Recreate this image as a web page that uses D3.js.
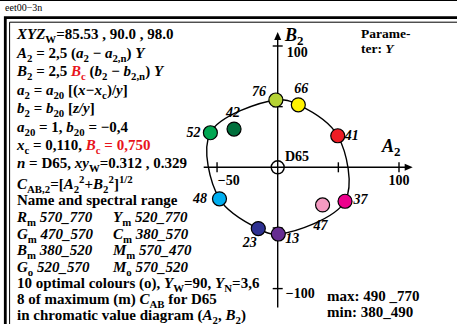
<!DOCTYPE html>
<html>
<head>
<meta charset="utf-8">
<script src="https://cdn.jsdelivr.net/npm/d3@7/dist/d3.min.js"></script>
<style>
body { margin: 0; background: #fff; }
svg text { font-family: "Liberation Serif", "Times New Roman", serif; font-weight: bold; white-space: pre; }
</style>
</head>
<body>
<svg id="fig" width="457" height="324"></svg>
<script>
// colour points: label, A2, B2, fill
var labels = ['76', '66', '41', '37', '13', '23', '48', '52', '42', '47'];
var a2Values = [-1.5, 17, 49.5, 55.5, 0.5, -16, -48, -55.5, -36, 37];
var b2Values = [55.5, 51.5, 26, -28, -55, -50.5, -26, 28.5, 31.5, -31];
var colours = ['#b5d334', '#fff200', '#ed1c24', '#ec008c', '#662d91',
               '#2e3192', '#00aeef', '#00a651', '#006f3c', '#f49ac1'];
// 8 maximum colours joined by the contour
var curveOrder = ['52', '76', '66', '41', '37', '13', '23', '48'];

var xTicks = [-50, 50, 100];
var yTicks = [-100, -50, 50, 100];
var xTickLabels = ['\u221250', '100'];   // for -50, 100
var yTickLabels = ['100', '\u2212100'];  // for 100, -100

// left text block, "flags|text": i italic, _ sub, ^ sup, r red
var textLines = [
  ['i|XYZ', '_|W', '|=85.53 , 90.0 , 98.0'],
  ['i|A', '_|2', '| = 2,5 (', 'i|a', '_|2', '| \u2212 ', 'i|a', '_|2,n', '|) ', 'i|Y'],
  ['i|B', '_|2', '| = 2,5 ', 'ri|B', 'r_|c', '| (', 'i|b', '_|2', '| \u2212 ', 'i|b', '_|2,n', '|) ', 'i|Y'],
  ['i|a', '_|2', '| = ', 'i|a', '_|20', '| [(', 'i|x\u2212x', '_|c', '|)/', 'i|y', '|]'],
  ['i|b', '_|2', '| = ', 'i|b', '_|20', '| [', 'i|z/y', '|]'],
  ['i|a', '_|20', '| = 1, ', 'i|b', '_|20', '| = \u22120,4'],
  ['i|x', '_|c', '| = 0,110, ', 'ri|B', 'r_|c', 'r| = 0,750'],
  ['i|n', '| = D65, ', 'i|xy', '_|W', '|=0.312 , 0.329'],
  ['i|C', '_|AB,2', '|=[', 'i|A', '_|2', '^|2', '|+', 'i|B', '_|2', '^|2', '|]', '^|1/2'],
  ['|Name and spectral range'],
  ['i|R', '_|m', 'i| 570_770'],
  ['i|G', '_|m', 'i| 470_570'],
  ['i|B', '_|m', 'i| 380_520'],
  ['i|G', '_|o', 'i| 520_570'],
  ['|10 optimal colours (o), ', 'i|Y', '_|W', '|=90, ', 'i|Y', '_|N', '|=3,6'],
  ['|8 of maximum (m) ', 'i|C', '_|AB', '| for D65'],
  ['|in chromatic value diagram (', 'i|A', '_|2', '|, ', 'i|B', '_|2', '|)']
];
var textLines2 = [
  ['i|Y', '_|m', 'i| 520_770'],
  ['i|C', '_|m', 'i| 380_570'],
  ['i|M', '_|m', 'i| 570_470'],
  ['i|M', '_|o', 'i| 570_520']
];
var baselines = [39, 57.5, 76, 94.5, 113, 131.5, 150, 167.5, 189, 204.5,
                 221.5, 238.5, 255, 271.5, 288, 304, 319.5];

var svg = d3.select('#fig');

function rich(sel, x, y, segs, size) {
  var t = sel.append('text').attr('x', x).attr('y', y).style('font-size', size + 'px');
  var cur = 0;
  segs.forEach(function(s) {
    var k = s.indexOf('|'), f = s.substring(0, k), str = s.substring(k + 1);
    var off = f.indexOf('_') >= 0 ? 4 : (f.indexOf('^') >= 0 ? -6 : 0);
    var ts = t.append('tspan').attr('dy', off - cur).text(str);
    cur = off;
    if (off !== 0) ts.style('font-size', (size * 0.72) + 'px');
    if (f.indexOf('i') >= 0) ts.style('font-style', 'italic');
    if (f.indexOf('r') >= 0) ts.attr('fill', '#e8141c');
  });
  return t;
}

// frame
svg.append('line').attr('x1', 0).attr('x2', 457).attr('y1', 0.5).attr('y2', 0.5)
  .attr('stroke', '#000').attr('stroke-width', 1);
svg.append('text').attr('x', 5).attr('y', 11).style('font-size', '10px')
  .style('font-weight', 'normal').text('eet00\u22123n');
svg.append('path').attr('d', 'M5.3,330 V17.6 H470').attr('fill', 'none')
  .attr('stroke', '#000').attr('stroke-width', 2.8);
svg.append('path').attr('d', 'M9.6,330 V22.2 H470').attr('fill', 'none')
  .attr('stroke', '#000').attr('stroke-width', 1);

// scales
var x = d3.scaleLinear().domain([-100, 100]).range([156.4, 399]);
var y = d3.scaleLinear().domain([-100, 100]).range([288.6, 46]);

var ax = svg.append('g').attr('stroke', '#000').attr('stroke-width', 1.4);
ax.append('line').attr('x1', x(-61)).attr('x2', x(106)).attr('y1', y(0)).attr('y2', y(0));
ax.append('line').attr('x1', x(0)).attr('x2', x(0)).attr('y1', y(-115.5)).attr('y2', y(106));
svg.append('path')
  .attr('d', 'M' + x(111.3) + ',' + y(0) + ' l-8,-3.5 v7 z').attr('fill', '#000');
svg.append('path')
  .attr('d', 'M' + x(0) + ',' + y(111.5) + ' l-3.5,8 h7 z').attr('fill', '#000');
ax.selectAll('.xt').data(xTicks).enter().append('line')
  .attr('x1', d => x(d)).attr('x2', d => x(d)).attr('y1', y(0) - 5).attr('y2', y(0) + 5);
ax.selectAll('.yt').data(yTicks).enter().append('line')
  .attr('x1', x(0) - 5).attr('x2', x(0) + 5).attr('y1', d => y(d)).attr('y2', d => y(d));

svg.append('text').attr('x', x(-50) + 0.8).attr('y', 185).style('font-size', '14px').text(xTickLabels[0]);
svg.append('text').attr('x', x(100)).attr('y', 185).attr('text-anchor', 'middle').style('font-size', '14px').text(xTickLabels[1]);
svg.append('text').attr('x', x(0) + 9).attr('y', 57).style('font-size', '14px').text(yTickLabels[0]);
svg.append('text').attr('x', x(0) + 8).attr('y', 298).style('font-size', '14px').text(yTickLabels[1]);

rich(svg, 285, 41, ['i|B', '_|2'], 18);
rich(svg, 382, 152, ['i|A', '_|2'], 18);
svg.append('text').attr('x', 285).attr('y', 161).style('font-size', '14px').text('D65');

// contour through the maximum colours
var pts = labels.map((l, i) => ({ label: l, a: a2Values[i], b: b2Values[i], fill: colours[i] }));
var byLabel = {};
pts.forEach(p => { byLabel[p.label] = p; });
var line = d3.line().x(p => x(p.a)).y(p => y(p.b)).curve(d3.curveCatmullRomClosed.alpha(0.5));
svg.append('path').attr('d', line(curveOrder.map(l => byLabel[l])))
  .attr('fill', 'none').attr('stroke', '#000').attr('stroke-width', 1.4);

svg.append('circle').attr('cx', x(0)).attr('cy', y(0)).attr('r', 6.5)
  .attr('fill', 'none').attr('stroke', '#000').attr('stroke-width', 1.4);

svg.selectAll('.pt').data(pts).enter().append('circle')
  .attr('cx', p => x(p.a)).attr('cy', p => y(p.b)).attr('r', 7)
  .attr('fill', p => p.fill).attr('stroke', '#000').attr('stroke-width', 1.2);

// label placement relative to the point centre
var labelPos = {
  '76': [-10, -4, 'end'], '66': [-4, -12, 'start'], '41': [7, 4, 'start'],
  '37': [8.5, 3, 'start'], '13': [7, 9, 'start'], '23': [-1.5, 18, 'end'],
  '48': [-12.5, 4, 'end'], '52': [-10, 4.5, 'end'], '42': [-8, -12, 'start'],
  '47': [-9, 25, 'start']
};
svg.selectAll('.lb').data(pts).enter().append('text')
  .attr('x', p => x(p.a) + labelPos[p.label][0])
  .attr('y', p => y(p.b) + labelPos[p.label][1])
  .attr('text-anchor', p => labelPos[p.label][2])
  .style('font-size', '14px').style('font-style', 'italic')
  .text(p => p.label);

// text blocks
textLines.forEach((segs, i) => rich(svg, 17, baselines[i], segs, 15));
textLines2.forEach((segs, i) => rich(svg, 113, baselines[i + 10], segs, 15));

rich(svg, 361, 38, ['|Parame-'], 13.5);
rich(svg, 361, 53, ['|ter: ', 'i|Y'], 13.5);
rich(svg, 327, 301, ['|max: 490 _770'], 15);
rich(svg, 327, 317, ['|min: 380_490'], 15);
</script>
</body>
</html>
